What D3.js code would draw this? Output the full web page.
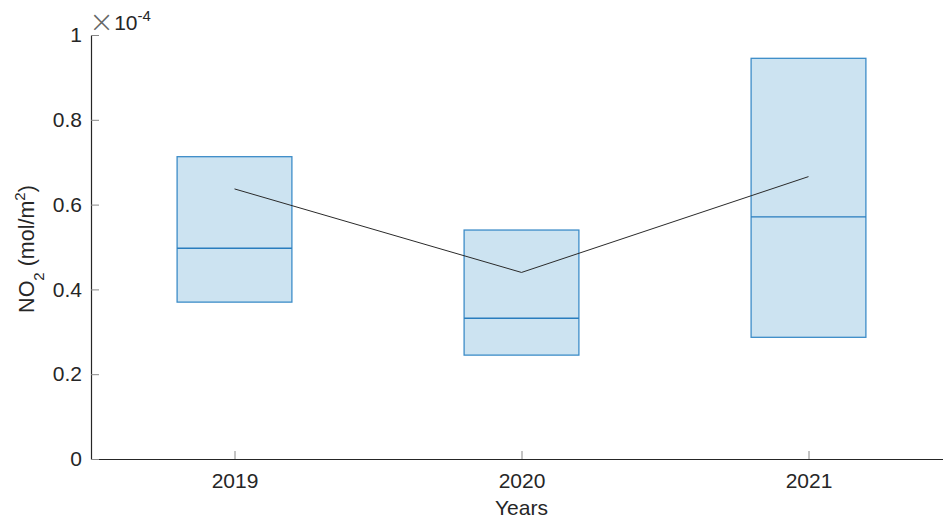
<!DOCTYPE html>
<html><head><meta charset="utf-8">
<script src="https://cdn.jsdelivr.net/npm/d3@7"></script>
<style>
html,body{margin:0;padding:0;background:#fff;}
svg{display:block;font-family:"Liberation Sans",Arial,Helvetica,sans-serif;}
</style></head>
<body>
<svg id="chart" width="943" height="523"></svg>
<script>
const years = ["2019", "2020", "2021"];
const q1 = [0.370, 0.245, 0.287];
const medians = [0.497, 0.332, 0.571];
const q3 = [0.713, 0.540, 0.945];
const means = [0.637, 0.440, 0.666];
const yTicks = [0, 0.2, 0.4, 0.6, 0.8, 1];
const yTickLabels = ["0", "0.2", "0.4", "0.6", "0.8", "1"];

const svg = d3.select("#chart");
const mLeft = 91, mRight = 952, mTop = 35, mBottom = 459;
const x = d3.scaleLinear().domain([0.5, 3.5]).range([mLeft, mRight]);
const y = d3.scaleLinear().domain([0, 1]).range([mBottom, mTop]);
const txt = "#262626";
const boxW = 0.4;

const data = years.map((yr, i) => ({yr, i: i + 1, q1: q1[i], med: medians[i], q3: q3[i], mean: means[i]}));

// boxes
const g = svg.append("g");
g.selectAll("rect.box").data(data).enter().append("rect")
  .attr("x", d => x(d.i - boxW / 2))
  .attr("width", d => x(d.i + boxW / 2) - x(d.i - boxW / 2))
  .attr("y", d => y(d.q3))
  .attr("height", d => y(d.q1) - y(d.q3))
  .attr("fill", "rgb(204,227,241)")
  .attr("stroke", "rgb(60,140,200)")
  .attr("stroke-width", 1.3);
g.selectAll("line.med").data(data).enter().append("line")
  .attr("x1", d => x(d.i - boxW / 2)).attr("x2", d => x(d.i + boxW / 2))
  .attr("y1", d => y(d.med)).attr("y2", d => y(d.med))
  .attr("stroke", "rgb(40,125,190)").attr("stroke-width", 1.3);

// mean line
const line = d3.line().x(d => x(d.i)).y(d => y(d.mean));
g.append("path").datum(data).attr("d", line)
  .attr("fill", "none").attr("stroke", "#2a2a2a").attr("stroke-width", 1);

// axes
const xAxis = d3.axisBottom(x).tickValues([1, 2, 3]).tickFormat(d => years[d - 1]).tickSizeInner(-8).tickSizeOuter(0).tickPadding(14);
const gx = svg.append("g").attr("transform", `translate(0,${mBottom})`).call(xAxis);
const yAxis = d3.axisLeft(y).tickValues(yTicks).tickFormat((d, i) => yTickLabels[i]).tickSizeInner(-8).tickSizeOuter(0).tickPadding(9);
const gy = svg.append("g").attr("transform", `translate(${mLeft},0)`).call(yAxis);
[gx, gy].forEach(a => {
  a.select(".domain").attr("stroke", txt).attr("stroke-width", 1.2);
  a.selectAll(".tick line").attr("stroke", "#888").attr("stroke-width", 1);
  a.selectAll(".tick text").attr("fill", txt).style("font-size", "21px").style("font-family", "Liberation Sans, Arial, sans-serif");
});

// exponent
const ex = svg.append("text").attr("x", 89).attr("y", 30).attr("fill", txt).style("font-size", "21px");
ex.append("tspan").attr("fill", "#666").style("font-size", "30px").style("font-family", "DejaVu Sans Light, DejaVu Sans, sans-serif").style("font-weight", "200").attr("dy", 2).text("\u00d7");
ex.append("tspan").attr("dy", -2).text("10");
ex.append("tspan").attr("dy", -9).style("font-size", "15px").text("-4");

// x label
svg.append("text").attr("x", (x(1) + x(3)) / 2).attr("y", 515).attr("text-anchor", "middle")
  .attr("fill", txt).style("font-size", "21px").text("Years");

// y label
const yl = svg.append("text").attr("transform", `translate(33.5,249) rotate(-90)`)
  .attr("text-anchor", "middle").attr("fill", txt).style("font-size", "21.5px");
yl.append("tspan").text("NO");
yl.append("tspan").attr("dy", 10).style("font-size", "15px").text("2");
yl.append("tspan").attr("dy", -10).text(" (mol/m");
yl.append("tspan").attr("dy", -9).style("font-size", "15px").text("2");
yl.append("tspan").attr("dy", 9).text(")");
</script>
</body></html>
